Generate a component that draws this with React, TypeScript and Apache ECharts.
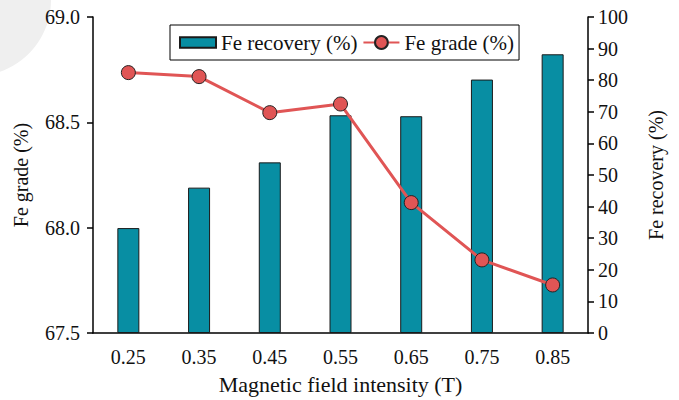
import React, { useEffect, useRef } from "react";
import * as echarts from "echarts";

const categories = ["0.25", "0.35", "0.45", "0.55", "0.65", "0.75", "0.85"];
const feRecovery = [33.2, 46.0, 54.0, 68.9, 68.6, 80.2, 88.2];
const feGrade = [68.736, 68.717, 68.546, 68.587, 68.119, 67.847, 67.728];

const FONT = "'Liberation Serif', 'Times New Roman', Times, serif";

export default function App() {
  const ref = useRef<HTMLDivElement>(null);
  useEffect(() => {
    if (!ref.current) return;
    const chart = echarts.init(ref.current, undefined, { renderer: "svg" });
    const lbl = { fontFamily: FONT, fontSize: 20, color: "#111" };
    chart.setOption({
      animation: false,
      backgroundColor: "#ffffff",
      textStyle: { fontFamily: FONT },
      graphic: [
        {
          type: "circle",
          z: -10,
          silent: true,
          shape: { cx: -25, cy: 0, r: 76 },
          style: { fill: "#efefef" },
        },
      ],
      grid: { left: 93, right: 91, top: 17, bottom: 67, containLabel: false },
      legend: {
        left: 170,
        top: 25,
        padding: [7, 5, 7, 9],
        itemGap: 5,
        itemWidth: 36,
        itemHeight: 16,
        borderColor: "#000",
        borderWidth: 1,
        backgroundColor: "#fff",
        textStyle: { ...lbl, fontSize: 21 },
        data: [
          { name: "Fe recovery (%)", icon: "path://M0,0h35v10h-35z" },
          { name: "Fe grade (%)" },
        ],
      },
      xAxis: {
        type: "category",
        data: categories,
        name: "Magnetic field intensity (T)",
        nameLocation: "middle",
        nameGap: 40,
        nameTextStyle: { ...lbl, fontSize: 22 },
        axisLine: { lineStyle: { color: "#000", width: 1.5 } },
        axisTick: { show: false },
        axisLabel: { ...lbl, margin: 14 },
      },
      yAxis: [
        {
          type: "value",
          min: 67.5,
          max: 69.0,
          interval: 0.5,
          name: "Fe grade (%)",
          nameLocation: "middle",
          nameRotate: 90,
          nameGap: 62,
          nameTextStyle: { ...lbl },
          axisLine: { show: true, lineStyle: { color: "#000", width: 1.5 } },
          axisTick: { show: true, inside: false, length: 6, lineStyle: { color: "#000", width: 1.5 } },
          axisLabel: {
            ...lbl,
            margin: 13,
            formatter: (v: number) => v.toFixed(1),
          },
          splitLine: { show: false },
        },
        {
          type: "value",
          min: 0,
          max: 100,
          interval: 10,
          position: "right",
          name: "Fe recovery (%)",
          nameLocation: "middle",
          nameRotate: 90,
          nameGap: 58,
          nameTextStyle: { ...lbl },
          axisLine: { show: true, lineStyle: { color: "#000", width: 1.5 } },
          axisTick: { show: true, inside: false, length: 6, lineStyle: { color: "#000", width: 1.5 } },
          axisLabel: { ...lbl, margin: 10 },
          splitLine: { show: false },
        },
      ],
      series: [
        {
          name: "Fe recovery (%)",
          type: "bar",
          yAxisIndex: 1,
          data: feRecovery,
          barWidth: 22,
          itemStyle: { color: "#088ea3", borderColor: "#1a1a1a", borderWidth: 1 },
          z: 2,
        },
        {
          name: "Fe grade (%)",
          type: "line",
          yAxisIndex: 0,
          data: feGrade,
          symbol: "circle",
          symbolSize: 14,
          lineStyle: { color: "#e05555", width: 3 },
          itemStyle: { color: "#e05555", borderColor: "#222", borderWidth: 1 },
          z: 3,
        },
      ],
    });
    return () => chart.dispose();
  }, []);
  return (
    <div
      ref={ref}
      style={{ position: "fixed", left: 0, top: 0, width: 679, height: 400 }}
    />
  );
}
